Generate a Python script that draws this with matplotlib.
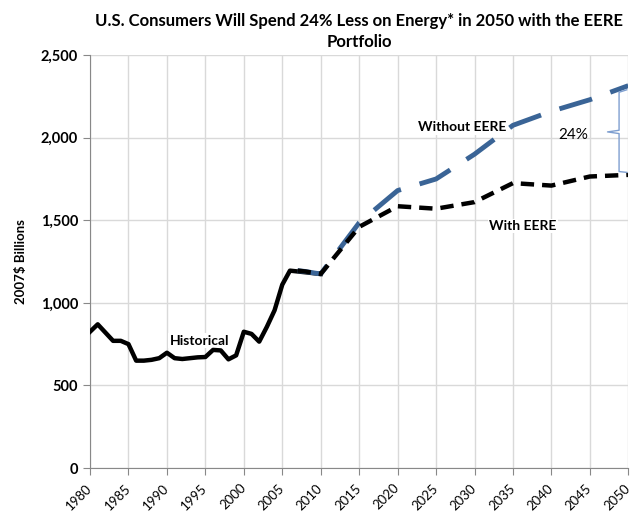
import numpy as np
import matplotlib.pyplot as plt
from matplotlib.ticker import FuncFormatter, MultipleLocator

# Gasto energético histórico (miles de millones de dólares de 2007)
hist_years = list(range(1980, 2011))
hist_values = [825, 870, 820, 770, 770, 750, 650, 650, 655, 665,
               698, 665, 660, 665, 670, 672, 715, 712, 658, 682,
               825, 812, 765, 855, 955, 1110, 1195, 1190, 1185, 1180, 1175]

# Proyecciones
proj_years = [2007, 2008, 2009, 2010, 2015, 2020, 2025, 2030, 2035, 2040, 2045, 2050]
without_eere = [1195, 1190, 1182, 1175, 1485, 1680, 1750, 1900, 2075, 2160, 2230, 2315]
with_eere = [1195, 1190, 1182, 1175, 1460, 1585, 1570, 1610, 1725, 1710, 1765, 1775]

x_ticks = list(range(1980, 2051, 5))

plt.rcParams['font.family'] = ['Lato', 'DejaVu Sans']

fig = plt.figure(figsize=(6.34, 5.2), dpi=100)
ax = fig.add_axes([0.142, 0.1, 0.849, 0.794])

ax.plot(hist_years, hist_values, color='black', lw=3.2, solid_joinstyle='round', zorder=3)
ax.plot(proj_years, without_eere, color='#3a6496', lw=3.5, dashes=(7, 4), zorder=4)
ax.plot(proj_years, with_eere, color='black', lw=3.2, dashes=(3, 1.8), zorder=5)

# Ejes
ax.set_xlim(1980, 2050)
ax.set_ylim(0, 2500)
ax.set_xticks(x_ticks)
ax.yaxis.set_major_locator(MultipleLocator(500))
ax.yaxis.set_major_formatter(FuncFormatter(lambda v, p: f'{int(v):,}'))
ax.grid(True, color='#d9d9d9', lw=1)
ax.set_axisbelow(True)
for s in ['top', 'right']:
    ax.spines[s].set_visible(False)
for s in ['left', 'bottom']:
    ax.spines[s].set_color('#888888')
ax.tick_params(axis='both', color='#888888', length=5)
ax.tick_params(axis='y', labelsize=10.5)
ax.tick_params(axis='x', labelsize=9.5, pad=8)
for lbl in ax.get_yticklabels():
    lbl.set_fontweight('bold')
for lbl in ax.get_xticklabels():
    lbl.set_rotation(45)
    lbl.set_ha('right')
    lbl.set_va('center')
    lbl.set_rotation_mode('anchor')

ax.set_ylabel('2007$ Billions', fontsize=9.5, fontweight='bold', labelpad=10)
ax.set_title('U.S. Consumers Will Spend 24% Less on Energy* in 2050 with the EERE\nPortfolio',
             fontsize=12, fontweight='bold', pad=6, linespacing=1.4)

# Etiquetas
box = dict(facecolor='white', edgecolor='none', pad=1)
ax.text(1994.2, 770, 'Historical', fontsize=10, fontweight='bold', ha='center', va='center', bbox=box, zorder=2)
ax.text(2028.4, 2064, 'Without EERE', fontsize=10, fontweight='bold', ha='center', va='center', bbox=box, zorder=2)
ax.text(2036.3, 1465, 'With EERE', fontsize=10, fontweight='bold', ha='center', va='center', bbox=box, zorder=2)
ax.text(2042.8, 2016, '24%', fontsize=11, ha='center', va='center')

# Llave entre las dos curvas en 2050
top = without_eere[-1] - 40
bot = with_eere[-1] + 20
mid = (top + bot) / 2
bx = 2048.8
ax.plot([2049.8, bx, bx, 2047.3, bx, bx, 2049.8],
        [top + 15, top, mid + 10, mid, mid - 10, bot, bot - 5],
        color='#7f9fd0', lw=1, zorder=6)

plt.savefig('out.png', dpi=100)
